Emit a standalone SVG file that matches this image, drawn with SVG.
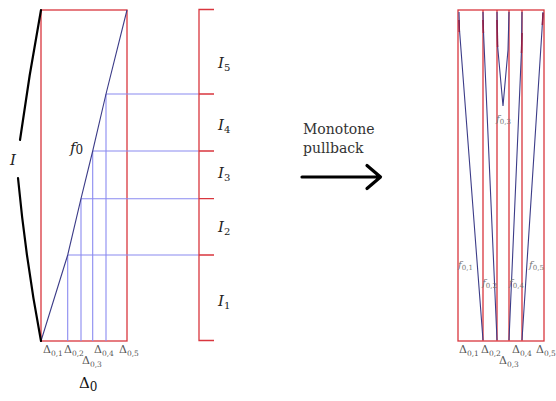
<svg xmlns="http://www.w3.org/2000/svg" width="556" height="401" viewBox="0 0 556 401" font-family="DejaVu Serif, serif">
<style>
.red{fill:none;stroke:#d9363e;stroke-width:1.3}
.blue{fill:none;stroke:#8a8af0;stroke-width:1.1}
.navy{fill:none;stroke:#3c3c88;stroke-width:1.1}
.mar{fill:none;stroke:#8b1f4a;stroke-width:1.5}
.blk{fill:none;stroke:#000;stroke-width:2.2;stroke-linecap:round}
.it{font-style:italic;fill:#222}
.sub{font-style:normal}
.d{fill:#555}
.fl{font-style:italic;fill:#777}
.fs{font-style:normal}
.tx{fill:#333}
</style>
<g id="left-panel">
<rect class="red" x="41" y="10" width="86" height="331"/>
<g id="grid">
<polyline class="blue" points="106,94 199,94"/>
<polyline class="blue" points="92.7,151 199,151"/>
<polyline class="blue" points="81,198.7 199,198.7"/>
<polyline class="blue" points="67.7,255 199,255"/>
<polyline class="blue" points="67.7,255 67.7,341"/>
<polyline class="blue" points="81,198.7 81,341"/>
<polyline class="blue" points="92.7,151 92.7,341"/>
<polyline class="blue" points="106,94 106,341"/>
</g>
<polyline id="f0" class="navy" points="41,341 67.7,255 81,198.7 92.7,151 106,94 127,10"/>
<text class="it" x="70" y="153" font-size="15">f<tspan class="sub" font-size="12" dy="1">0</tspan></text>
</g>
<g id="I-curve">
<path class="blk" d="M41,10 Q29,75 20,140"/>
<path class="blk" d="M18,178 Q26,262 41,341"/>
<text class="it" x="10" y="165" font-size="15">I</text>
</g>
<g id="bracket">
<path class="red" d="M214,9.5 H199 V340.5 H214 M199,94 H214 M199,151 H214 M199,198.7 H214 M199,255 H214"/>
<text class="it" x="218" y="68" font-size="15">I<tspan class="sub" font-size="10" dy="3">5</tspan></text>
<text class="it" x="218" y="130" font-size="15">I<tspan class="sub" font-size="10" dy="3">4</tspan></text>
<text class="it" x="218" y="178" font-size="15">I<tspan class="sub" font-size="10" dy="3">3</tspan></text>
<text class="it" x="218" y="232" font-size="15">I<tspan class="sub" font-size="10" dy="3">2</tspan></text>
<text class="it" x="218" y="306" font-size="15">I<tspan class="sub" font-size="10" dy="3">1</tspan></text>
</g>
<g id="left-deltas" font-size="11">
<text class="d" x="43" y="353">Δ<tspan font-size="7.5" dy="3">0,1</tspan></text>
<text class="d" x="64" y="353">Δ<tspan font-size="7.5" dy="3">0,2</tspan></text>
<text class="d" x="82" y="364">Δ<tspan font-size="7.5" dy="3">0,3</tspan></text>
<text class="d" x="94" y="353">Δ<tspan font-size="7.5" dy="3">0,4</tspan></text>
<text class="d" x="119" y="353">Δ<tspan font-size="7.5" dy="3">0,5</tspan></text>
<text x="79" y="388" font-size="15" fill="#111">Δ<tspan font-size="12" dy="3">0</tspan></text>
</g>
<g id="arrow">
<text class="tx" x="303" y="134" font-size="14">Monotone</text>
<text class="tx" x="303" y="153" font-size="14">pullback</text>
<path d="M302,177 H380 M367,165.5 L380.5,177 L367,188.5" fill="none" stroke="#000" stroke-width="3.2" stroke-linecap="round" stroke-linejoin="round"/>
</g>
<g id="right-panel">
<rect class="red" x="458" y="10" width="86" height="331"/>
<path class="red" d="M483,10 V341 M497,10 V341 M509,10 V341 M522,10 V341"/>
<g id="curves">
<path class="navy" d="M459,12 L459.5,30 L483,340"/>
<path class="navy" d="M483,12 L483.5,32 L497,340"/>
<path class="navy" d="M497,12 L497.5,45 L503,106 L508,50 L509,12"/>
<path class="navy" d="M522,12 L521.5,50 L509,340"/>
<path class="navy" d="M543,12 L542,30 L522,340"/>
<path class="mar" d="M459,20 L459.3,32"/>
<path class="mar" d="M483,20 L483.4,33"/>
<path class="mar" d="M497,20 L497.6,47"/>
<path class="mar" d="M522,33 L521.5,53"/>
<path class="mar" d="M543,13 L542.4,25"/>
</g>
<g font-size="10">
<text class="fl" x="458" y="268">f<tspan class="fs" font-size="7" dy="2">0,1</tspan></text>
<text class="fl" x="482" y="286">f<tspan class="fs" font-size="7" dy="2">0,2</tspan></text>
<text class="fl" x="496" y="122">f<tspan class="fs" font-size="7" dy="2">0,3</tspan></text>
<text class="fl" x="509" y="286">f<tspan class="fs" font-size="7" dy="2">0,4</tspan></text>
<text class="fl" x="529" y="268">f<tspan class="fs" font-size="7" dy="2">0,5</tspan></text>
</g>
<g font-size="11">
<text class="d" x="459" y="353">Δ<tspan font-size="7.5" dy="3">0,1</tspan></text>
<text class="d" x="481" y="353">Δ<tspan font-size="7.5" dy="3">0,2</tspan></text>
<text class="d" x="499" y="364">Δ<tspan font-size="7.5" dy="3">0,3</tspan></text>
<text class="d" x="512" y="353">Δ<tspan font-size="7.5" dy="3">0,4</tspan></text>
<text class="d" x="536" y="353">Δ<tspan font-size="7.5" dy="3">0,5</tspan></text>
</g>
</g>
</svg>
